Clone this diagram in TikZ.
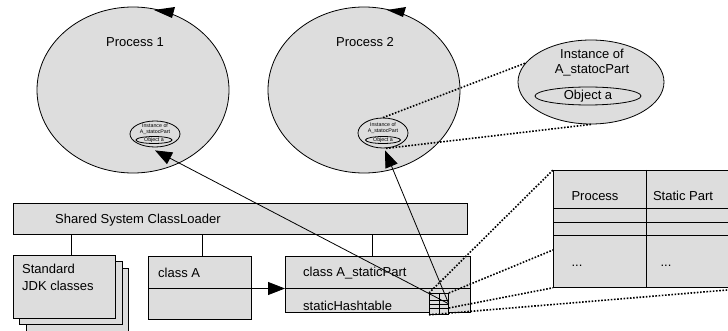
\documentclass[tikz,border=0pt]{standalone}
\usepackage{fontspec}
\setmainfont{Liberation Sans}
\usetikzlibrary{arrows.meta,shapes.geometric}
\definecolor{boxgray}{RGB}{221,221,221}
\tikzset{
  cell/.style={draw, fill=boxgray, line width=0.8pt, inner sep=0, anchor=north west},
  blob/.style={draw, ellipse, fill=boxgray, line width=0.8pt, inner sep=0},
  lbl/.style={inner sep=0, font=\fontsize{13}{15}\selectfont, align=center},
  tiny/.style={inner sep=0, font=\fontsize{5.3}{6}\selectfont, align=center},
  link/.style={line width=0.8pt},
  ref/.style={line width=0.8pt, -{Triangle[length=17pt,width=13pt]}},
  dots/.style={line width=1.6pt, dash pattern=on 1.6pt off 1.6pt},
}
\begin{document}
\begin{tikzpicture}[x=1pt,y=-1pt]
\useasboundingbox (0,0) rectangle (728,331);
\clip (0,0) rectangle (728,331);

% the two processes
\node[blob, minimum width=192pt, minimum height=166pt] (p1) at (133,90) {};
\node[blob, minimum width=192pt, minimum height=166pt] (p2) at (364,90) {};
\fill (154,10) -- (175,7) -- (172,18) -- cycle;
\fill (387,10) -- (406,7) -- (403,17) -- cycle;
\node[lbl] (p1t) at (135,42) {Process 1};
\node[lbl] (p2t) at (365,42) {Process 2};

% instances living inside each process
\node[blob, minimum width=50pt, minimum height=26pt] (inst1) at (155,134) {};
\node[blob, minimum width=36pt, minimum height=7pt] (obj1) at (154,140) {};
\node[tiny] (inst1t) at (155,129) {Instance of\\A\_statocPart};
\node[tiny] (obj1t) at (obj1) {Object a};

\node[blob, minimum width=50pt, minimum height=30pt] (inst2) at (383,133) {};
\node[blob, minimum width=35pt, minimum height=7pt] (obj2) at (383,140) {};
\node[tiny] (inst2t) at (383,128) {Instance of\\A\_statocPart};
\node[tiny] (obj2t) at (obj2) {Object a};

% magnified instance
\node[blob, minimum width=146pt, minimum height=84pt] (bigInst) at (591,82) {};
\node[blob, minimum width=106pt, minimum height=18pt] (bigObj) at (588,96) {};
\node[lbl] (bigInstt) at (592,62.5) {Instance of\\A\_statocPart};
\node[lbl] (bigObjt) at (bigObj) {Object a};

% class loader and the classes it loads
\node[cell, minimum width=454pt, minimum height=31pt] (loader) at (13,203) {};
\node[lbl, anchor=west] (loadert) at (55,220) {Shared System ClassLoader};

\node[cell, minimum width=102pt, minimum height=70pt] (jdkC) at (26,268) {};
\node[cell, minimum width=103pt, minimum height=63pt] (jdkB) at (19,261) {};
\node[cell, minimum width=102pt, minimum height=63pt] (jdkA) at (13,255) {};
\node[lbl, anchor=north west, align=left] (jdkt) at (22,264) {Standard\\[2pt]JDK classes};

\node[cell, minimum width=103pt, minimum height=63pt] (classA) at (148,256) {};
\node[lbl, anchor=west] (classAt) at (158,273) {class A};

\node[cell, minimum width=185pt, minimum height=56pt] (staticPart) at (285,256) {};
\node[lbl, anchor=west] (staticPartt) at (303,273) {class A\_staticPart};
\node[lbl, anchor=west] (hasht) at (303,306) {staticHashtable};
\draw[link] (staticPart.west |- 0,288.5) -- (staticPart.east |- 0,288.5);

\draw[link] ([xshift=7pt]jdkA.north) -- ([xshift=7pt]jdkA.north |- loader.south);
\draw[link] ([xshift=2.5pt]classA.north) -- ([xshift=2.5pt]classA.north |- loader.south);
\draw[link] ([xshift=-5.5pt]staticPart.north) -- ([xshift=-5.5pt]staticPart.north |- loader.south);
\draw[ref] (classA.west |- 0,288.5) -- (staticPart.west |- 0,288.5);

% hashtable contents
\node[cell, minimum width=200pt, minimum height=117pt] (tbl) at (553,170) {};
\draw[link] (553,208) -- (753,208);
\draw[link] (553,222) -- (753,222);
\draw[link] (553,235) -- (753,235);
\draw[link] (646,170) -- (646,287);
\node[lbl] (c1) at (595,196) {Process};
\node[lbl] (c2) at (683,196) {Static Part};
\node[lbl] (c3) at (577,266) {...};
\node[lbl] (c4) at (666,266) {...};

% hashtable icon
\node[cell, minimum width=19pt, minimum height=21pt] (hash) at (429,293) {};
\draw[link] (hash.north) -- (hash.south);
\draw[link] (429,300) -- (448,300);
\draw[link] (429,304) -- (448,304);
\draw[link] (429,308) -- (448,308);

% zoom lines
\draw[dots] (hash.north west) -- (tbl.north west);
\draw[dots] (hash.north east) -- (tbl.west |- 0,250);
\draw[dots] (hash.east |- 0,308) -- (tbl.south west);
\draw[dots] (hash.south west) -- (tbl.south east);
\draw[dots] (inst2.north) -- (bigInst.164);
\draw[dots] ([xshift=3pt]inst2.south) -- (bigInst.south);

% references from the table to the instances
\draw[ref] (hash.east) -- ([yshift=-3pt]inst1.south);
\draw[ref] (hash.east) -- ([xshift=2pt,yshift=-2pt]inst2.south);
\end{tikzpicture}
\end{document}
